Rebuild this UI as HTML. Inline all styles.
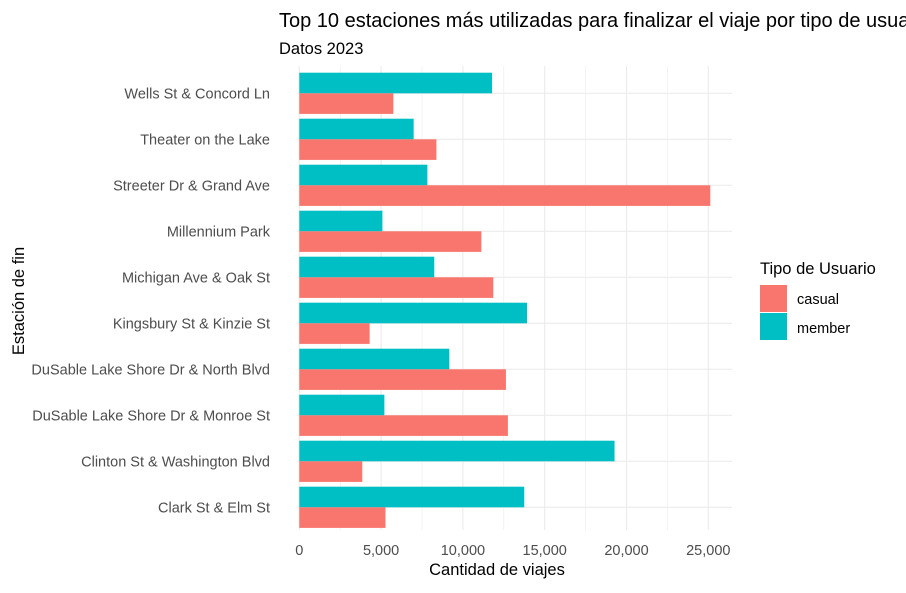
<!DOCTYPE html>
<html><head><meta charset="utf-8"><style>
body{margin:0;background:#fff;width:906px;height:588px;overflow:hidden;font-family:"Liberation Sans",sans-serif}
</style></head><body>
<svg width="906" height="588" font-family="Liberation Sans, sans-serif">
<text x="279" y="27" font-size="20" fill="#000">Top 10 estaciones más utilizadas para finalizar el viaje por tipo de usuario</text>
<text x="279" y="54" font-size="16.5" fill="#000">Datos 2023</text>
<g id="grid"></g><g id="bars"></g><g id="ylab"></g><g id="xlab"></g>
<text x="497" y="575" font-size="16.5" text-anchor="middle" fill="#000">Cantidad de viajes</text>
<text transform="translate(24,301) rotate(-90)" font-size="16.5" text-anchor="middle" fill="#000">Estación de fin</text>
<text x="760" y="274" font-size="16.5" fill="#000">Tipo de Usuario</text>
<rect x="760" y="285" width="27" height="27" fill="#F8766D"/>
<text x="797" y="304" font-size="14.5" fill="#000">casual</text>
<rect x="760" y="313" width="27" height="27" fill="#00BFC4"/>
<text x="797" y="333" font-size="14.5" fill="#000">member</text>
</svg>
<script>
const stations=["Wells St & Concord Ln","Theater on the Lake","Streeter Dr & Grand Ave","Millennium Park","Michigan Ave & Oak St","Kingsbury St & Kinzie St","DuSable Lake Shore Dr & North Blvd","DuSable Lake Shore Dr & Monroe St","Clinton St & Washington Blvd","Clark St & Elm St"];
const casual=[5750,8380,25120,11130,11860,4300,12630,12750,3850,5270];
const member=[11780,6990,7830,5080,8250,13920,9170,5200,19270,13750];
const xticks=[0,5000,10000,15000,20000,25000];
const xtickLabels=["0","5,000","10,000","15,000","20,000","25,000"];
const NS="http://www.w3.org/2000/svg";
const x0=299.3,k=409/25000,pTop=66,pBot=530,pRight=732,rowTop=93.3,rowStep=46,bh=20.6;
const X=v=>x0+v*k, Y=i=>rowTop+i*rowStep;
function mk(t,a,p){const e=document.createElementNS(NS,t);for(const n in a)e.setAttribute(n,a[n]);p.appendChild(e);return e;}
const g=document.getElementById('grid');
for(let v=0;v<=26250;v+=2500){const l=mk('line',{x1:X(v),x2:X(v),y1:pTop,y2:pBot,stroke:'#ebebeb','stroke-width':v%5000?0.6:1.1},g);

}
stations.forEach((s,i)=>{const l=mk('line',{x1:x0-2,x2:pRight,y1:Y(i),y2:Y(i),stroke:'#ebebeb','stroke-width':1.1},g);

});
const b=document.getElementById('bars');
stations.forEach((s,i)=>{
const m=mk('rect',{x:x0,y:Y(i)-bh,width:X(member[i])-x0,height:bh,fill:'#00BFC4'},b);


const c=mk('rect',{x:x0,y:Y(i),width:X(casual[i])-x0,height:bh,fill:'#F8766D'},b);


const t=mk('text',{x:270,y:Y(i)+5,'text-anchor':'end','font-size':14.5,fill:'#4d4d4d'},document.getElementById('ylab'));
t.textContent=s;


});
xticks.forEach((v,i)=>{const t=mk('text',{x:X(v),y:555,'text-anchor':'middle','font-size':14.5,fill:'#4d4d4d'},document.getElementById('xlab'));
t.textContent=xtickLabels[i];

});
</script>
</body></html>
